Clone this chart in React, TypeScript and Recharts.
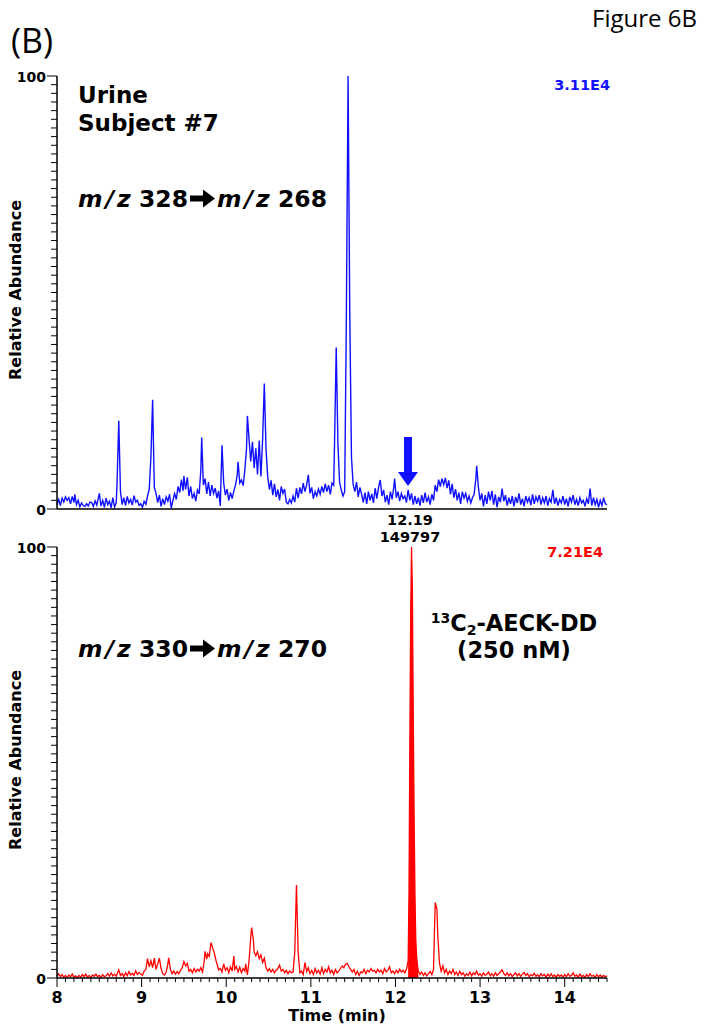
import React from "react";
import { ComposedChart, Line, Area, XAxis, YAxis } from "recharts";

// m/z 328 -> 268 trace (urine, subject #7), [time (min), relative abundance %]
const urineTrace: [number, number][] = [
  [8.0, 1.0], [8.02, 2.2], [8.04, 0.8], [8.06, 2.5], [8.08, 1.6], [8.1, 2.8], [8.12, 2.0], [8.14, 2.6],
  [8.16, 1.2], [8.18, 2.9], [8.2, 1.5], [8.21, 3.4], [8.23, 1.0], [8.25, 2.0], [8.27, 0.5], [8.29, 1.4],
  [8.31, 0.8], [8.33, 0.6], [8.35, 1.2], [8.37, 0.7], [8.39, 1.6], [8.41, 1.5], [8.43, 0.6], [8.45, 1.9],
  [8.47, 0.9], [8.5, 3.6], [8.52, 0.7], [8.54, 2.0], [8.56, 0.4], [8.58, 2.5], [8.6, 1.0], [8.62, 1.8],
  [8.64, 0.3], [8.66, 2.6], [8.68, 0.5], [8.7, 1.5], [8.71, 6.0], [8.73, 20.4], [8.75, 4.0], [8.77, 1.0],
  [8.79, 2.6], [8.81, 0.8], [8.83, 2.9], [8.85, 1.4], [8.87, 2.2], [8.89, 0.9], [8.91, 3.1], [8.93, 1.6],
  [8.95, 2.0], [8.97, 0.8], [8.99, 1.2], [9.01, 0.4], [9.03, 1.8], [9.05, 1.1], [9.07, 3.0], [9.09, 4.5],
  [9.11, 12.0], [9.13, 25.2], [9.15, 5.0], [9.17, 3.6], [9.19, 1.5], [9.21, 3.2], [9.23, 0.6], [9.25, 2.4],
  [9.27, 1.0], [9.29, 2.8], [9.31, 1.8], [9.33, 3.4], [9.35, 0.2], [9.37, 2.0], [9.39, 3.6], [9.41, 2.2],
  [9.43, 5.2], [9.45, 3.8], [9.47, 6.8], [9.49, 4.2], [9.5, 7.6], [9.52, 4.5], [9.54, 7.3], [9.56, 3.0],
  [9.58, 5.2], [9.6, 2.4], [9.62, 3.6], [9.64, 1.8], [9.66, 4.4], [9.68, 3.5], [9.7, 9.0], [9.71, 16.5],
  [9.73, 5.5], [9.75, 7.0], [9.77, 3.5], [9.79, 6.2], [9.81, 3.0], [9.83, 5.5], [9.85, 3.6], [9.87, 4.8],
  [9.89, 2.5], [9.91, 4.2], [9.93, 0.7], [9.94, 8.0], [9.95, 14.7], [9.97, 6.0], [9.99, 3.2], [10.01, 4.6],
  [10.03, 2.0], [10.05, 3.8], [10.07, 2.4], [10.09, 4.2], [10.11, 5.6], [10.13, 7.8], [10.14, 10.9], [10.16, 6.0],
  [10.18, 6.7], [10.2, 5.4], [10.22, 9.0], [10.24, 14.0], [10.25, 21.5], [10.27, 16.0], [10.29, 11.0], [10.31, 15.5],
  [10.33, 9.5], [10.35, 14.0], [10.37, 8.0], [10.39, 15.8], [10.41, 7.5], [10.43, 16.0], [10.45, 29.0], [10.47, 14.0],
  [10.49, 7.5], [10.51, 4.5], [10.53, 6.6], [10.55, 3.2], [10.57, 5.8], [10.59, 2.8], [10.61, 4.5], [10.63, 2.0],
  [10.65, 5.2], [10.67, 3.6], [10.69, 4.6], [10.71, 1.6], [10.73, 1.2], [10.75, 2.2], [10.77, 1.4], [10.79, 3.0],
  [10.81, 1.6], [10.83, 4.8], [10.85, 2.5], [10.87, 5.0], [10.89, 3.5], [10.91, 6.0], [10.93, 4.0], [10.95, 5.5],
  [10.97, 7.9], [10.99, 3.6], [11.01, 5.0], [11.03, 2.4], [11.05, 4.0], [11.07, 3.0], [11.09, 4.6], [11.11, 3.4],
  [11.13, 5.2], [11.15, 3.8], [11.17, 5.8], [11.19, 4.0], [11.21, 5.5], [11.23, 3.4], [11.25, 6.0], [11.27, 5.5],
  [11.28, 15.0], [11.3, 37.3], [11.32, 15.0], [11.34, 6.0], [11.36, 4.4], [11.38, 3.0], [11.4, 4.0], [11.42, 45.0],
  [11.44, 100], [11.46, 45.0], [11.48, 12.0], [11.5, 5.6], [11.52, 4.0], [11.54, 6.2], [11.56, 2.8], [11.58, 5.0],
  [11.6, 3.4], [11.62, 1.5], [11.64, 3.8], [11.66, 1.2], [11.68, 4.0], [11.7, 2.0], [11.72, 3.5], [11.74, 1.4],
  [11.76, 4.8], [11.78, 2.4], [11.8, 5.0], [11.82, 6.7], [11.84, 3.0], [11.86, 4.4], [11.88, 1.6], [11.9, 3.2],
  [11.92, 1.0], [11.94, 4.0], [11.96, 2.2], [11.98, 5.0], [11.99, 7.0], [12.01, 2.6], [12.03, 4.0], [12.05, 1.8],
  [12.07, 3.6], [12.09, 2.4], [12.11, 3.0], [12.13, 1.5], [12.15, 4.4], [12.17, 2.0], [12.19, 3.6], [12.21, 1.0],
  [12.23, 3.0], [12.25, 1.2], [12.27, 2.6], [12.29, 0.8], [12.31, 3.2], [12.33, 1.4], [12.35, 3.8], [12.37, 1.6],
  [12.39, 2.8], [12.41, 1.0], [12.43, 3.4], [12.45, 2.0], [12.47, 5.5], [12.49, 4.0], [12.51, 6.8], [12.53, 5.2],
  [12.55, 7.0], [12.57, 5.6], [12.59, 7.2], [12.61, 4.8], [12.63, 6.6], [12.65, 3.4], [12.67, 5.8], [12.69, 2.6],
  [12.71, 4.6], [12.73, 2.0], [12.75, 3.8], [12.77, 1.2], [12.79, 4.0], [12.81, 2.5], [12.83, 3.6], [12.85, 1.8],
  [12.87, 3.0], [12.89, 1.4], [12.91, 2.6], [12.93, 3.4], [12.95, 7.0], [12.96, 10.0], [12.98, 5.0], [13.0, 2.0],
  [13.02, 3.6], [13.04, 0.6], [13.06, 3.2], [13.08, 1.2], [13.1, 4.0], [13.12, 2.0], [13.14, 4.2], [13.16, 1.0],
  [13.18, 3.4], [13.2, 0.4], [13.22, 2.8], [13.24, 1.6], [13.26, 4.7], [13.28, 1.8], [13.3, 3.2], [13.32, 0.8],
  [13.34, 2.6], [13.36, 1.2], [13.38, 3.0], [13.4, 0.6], [13.42, 2.8], [13.44, 1.4], [13.46, 3.6], [13.48, 1.0],
  [13.5, 2.4], [13.52, 0.6], [13.54, 3.0], [13.56, 1.6], [13.58, 2.6], [13.6, 0.9], [13.62, 3.4], [13.64, 1.2],
  [13.66, 2.8], [13.68, 1.8], [13.7, 3.2], [13.72, 1.0], [13.74, 2.6], [13.76, 1.4], [13.78, 3.0], [13.8, 0.8],
  [13.82, 2.4], [13.84, 1.6], [13.86, 4.4], [13.88, 1.2], [13.9, 2.6], [13.92, 0.8], [13.94, 2.2], [13.96, 1.4],
  [13.98, 3.0], [14.0, 1.0], [14.02, 2.4], [14.04, 0.6], [14.06, 2.8], [14.08, 1.6], [14.1, 3.2], [14.12, 1.0],
  [14.14, 2.2], [14.16, 0.8], [14.18, 2.6], [14.2, 1.4], [14.22, 2.0], [14.24, 0.6], [14.26, 2.4], [14.28, 1.2],
  [14.3, 4.7], [14.32, 0.8], [14.34, 2.6], [14.36, 1.0], [14.38, 2.2], [14.4, 0.4], [14.42, 2.0], [14.44, 0.8],
  [14.46, 2.6], [14.48, 1.2], [14.5, 1.0],
];

// m/z 330 -> 270 trace (13C2 internal standard)
const istdTrace: [number, number][] = [
  [8.0, 0.4], [8.02, 1.0], [8.04, 0.3], [8.06, 0.8], [8.08, 0.2], [8.1, 0.6], [8.12, 0.1], [8.14, 0.7],
  [8.16, 0.3], [8.18, 0.9], [8.2, 0.2], [8.22, 0.5], [8.24, 0.1], [8.26, 0.6], [8.28, 0.2], [8.3, 0.8],
  [8.32, 0.3], [8.34, 0.9], [8.36, 0.2], [8.38, 0.6], [8.4, 0.1], [8.42, 0.7], [8.44, 0.4], [8.46, 0.9],
  [8.48, 0.3], [8.5, 0.6], [8.52, 0.2], [8.54, 0.8], [8.56, 0.3], [8.58, 0.5], [8.6, 1.0], [8.62, 0.4],
  [8.64, 1.2], [8.66, 0.5], [8.68, 0.9], [8.7, 0.4], [8.72, 1.4], [8.73, 1.9], [8.75, 0.6], [8.77, 1.0],
  [8.79, 0.3], [8.81, 1.2], [8.83, 0.5], [8.85, 1.5], [8.87, 0.7], [8.89, 1.1], [8.91, 0.6], [8.93, 1.7],
  [8.95, 0.8], [8.97, 1.3], [8.99, 0.9], [9.01, 0.6], [9.03, 1.6], [9.05, 2.0], [9.07, 4.5], [9.09, 2.6],
  [9.11, 4.0], [9.13, 2.4], [9.15, 4.6], [9.17, 2.0], [9.19, 3.2], [9.21, 4.6], [9.23, 2.2], [9.25, 1.0],
  [9.27, 0.7], [9.29, 1.4], [9.31, 3.2], [9.32, 4.7], [9.34, 2.0], [9.36, 1.0], [9.38, 1.6], [9.4, 0.9],
  [9.42, 1.5], [9.44, 1.0], [9.46, 1.8], [9.48, 2.4], [9.5, 3.8], [9.52, 2.8], [9.54, 3.4], [9.56, 1.6],
  [9.58, 2.0], [9.6, 1.2], [9.62, 2.2], [9.64, 1.4], [9.66, 2.0], [9.68, 1.6], [9.7, 2.4], [9.72, 1.4],
  [9.74, 4.0], [9.75, 6.2], [9.77, 4.4], [9.78, 5.6], [9.8, 5.0], [9.82, 8.2], [9.84, 7.0], [9.86, 5.7],
  [9.88, 4.0], [9.9, 2.6], [9.91, 1.9], [9.93, 2.2], [9.95, 1.4], [9.97, 3.3], [9.99, 1.8], [10.01, 2.4],
  [10.03, 1.2], [10.05, 2.6], [10.07, 1.6], [10.09, 5.1], [10.1, 2.0], [10.12, 2.7], [10.14, 1.4], [10.16, 2.5],
  [10.18, 1.2], [10.2, 2.2], [10.22, 1.6], [10.23, 3.3], [10.25, 0.7], [10.27, 4.0], [10.29, 9.5], [10.3, 11.7],
  [10.32, 9.0], [10.33, 6.0], [10.35, 5.2], [10.37, 6.1], [10.39, 4.5], [10.41, 5.4], [10.43, 3.6], [10.45, 4.6],
  [10.47, 2.4], [10.49, 1.6], [10.51, 2.2], [10.53, 1.4], [10.55, 2.0], [10.57, 1.2], [10.59, 1.8], [10.61, 2.2],
  [10.63, 3.0], [10.65, 1.6], [10.67, 2.0], [10.69, 1.2], [10.71, 1.8], [10.73, 1.0], [10.75, 1.6], [10.77, 1.2],
  [10.79, 1.4], [10.81, 6.0], [10.83, 21.6], [10.85, 6.0], [10.87, 1.2], [10.89, 1.6], [10.91, 0.8], [10.93, 3.6],
  [10.95, 1.5], [10.97, 2.4], [10.99, 1.0], [11.01, 1.8], [11.03, 0.8], [11.05, 2.2], [11.07, 1.2], [11.09, 1.8],
  [11.11, 0.9], [11.13, 2.4], [11.15, 1.0], [11.17, 2.0], [11.19, 1.4], [11.21, 2.6], [11.23, 1.2], [11.25, 1.8],
  [11.27, 0.8], [11.29, 2.0], [11.31, 1.2], [11.33, 1.6], [11.35, 2.2], [11.37, 2.8], [11.39, 2.4], [11.41, 3.2],
  [11.43, 3.4], [11.45, 2.6], [11.47, 2.0], [11.49, 1.4], [11.51, 2.0], [11.53, 0.8], [11.55, 1.6], [11.57, 0.6],
  [11.59, 1.4], [11.61, 1.2], [11.63, 2.0], [11.65, 1.0], [11.67, 1.8], [11.69, 1.4], [11.71, 2.2], [11.73, 1.6],
  [11.75, 1.8], [11.77, 1.2], [11.79, 2.0], [11.81, 1.4], [11.83, 1.8], [11.85, 1.0], [11.87, 2.2], [11.89, 1.4],
  [11.91, 1.8], [11.93, 2.6], [11.95, 1.2], [11.97, 1.6], [11.99, 1.0], [12.01, 1.8], [12.03, 1.2], [12.05, 2.0],
  [12.07, 1.4], [12.09, 1.8], [12.11, 1.2], [12.13, 2.0], [12.15, 4.0], [12.16, 20], [12.17, 55], [12.18, 85],
  [12.19, 100], [12.2, 90], [12.21, 62], [12.22, 38], [12.23, 20], [12.24, 9], [12.25, 5], [12.26, 3],
  [12.27, 1.6], [12.29, 0.8], [12.31, 1.4], [12.33, 0.6], [12.35, 1.2], [12.37, 0.5], [12.39, 1.0], [12.41, 1.5],
  [12.43, 0.8], [12.45, 2.0], [12.46, 10], [12.47, 17.5], [12.49, 16.0], [12.5, 10], [12.52, 3.5], [12.54, 1.6],
  [12.56, 2.8], [12.58, 1.2], [12.6, 2.0], [12.62, 0.8], [12.64, 1.6], [12.66, 1.0], [12.68, 2.0], [12.7, 0.8],
  [12.72, 1.4], [12.74, 0.6], [12.76, 1.6], [12.78, 0.8], [12.8, 1.2], [12.82, 0.4], [12.84, 1.0], [12.86, 0.6],
  [12.88, 1.4], [12.9, 0.5], [12.92, 1.2], [12.94, 0.8], [12.96, 1.6], [12.98, 0.6], [13.0, 1.0], [13.02, 0.4],
  [13.04, 1.2], [13.06, 0.6], [13.08, 0.9], [13.1, 1.4], [13.12, 0.5], [13.14, 1.0], [13.16, 0.4], [13.18, 1.2],
  [13.2, 0.6], [13.22, 1.0], [13.24, 1.4], [13.26, 1.9], [13.28, 1.0], [13.3, 0.6], [13.32, 1.2], [13.34, 0.5],
  [13.36, 1.0], [13.38, 0.3], [13.4, 0.8], [13.42, 1.2], [13.44, 0.5], [13.46, 1.0], [13.48, 0.4], [13.5, 0.9],
  [13.52, 1.3], [13.54, 0.6], [13.56, 1.0], [13.58, 0.3], [13.6, 0.8], [13.62, 0.5], [13.64, 1.1], [13.66, 0.4],
  [13.68, 0.7], [13.7, 0.3], [13.72, 1.0], [13.74, 0.5], [13.76, 0.8], [13.78, 0.2], [13.8, 0.9], [13.82, 0.4],
  [13.84, 1.0], [13.86, 0.3], [13.88, 0.7], [13.9, 0.2], [13.92, 0.8], [13.94, 0.4], [13.96, 0.7], [13.98, 0.2],
  [14.0, 0.8], [14.02, 0.3], [14.04, 1.0], [14.06, 0.4], [14.08, 0.6], [14.1, 1.2], [14.12, 0.4], [14.14, 0.7],
  [14.16, 0.2], [14.18, 0.9], [14.2, 0.3], [14.22, 0.6], [14.24, 0.2], [14.26, 0.8], [14.28, 0.3], [14.3, 1.0],
  [14.32, 0.4], [14.34, 0.6], [14.36, 0.2], [14.38, 0.8], [14.4, 0.3], [14.42, 0.7], [14.44, 0.2], [14.46, 0.6],
  [14.48, 0.3], [14.5, 0.5],
];

// filled region of the labelled standard peak
const istdPeakRange = [12.14, 12.28];

const timeDomain = [8, 14.5];
const yTicks = Array.from({ length: 51 }, (_, i) => i * 2);
const xTicks = Array.from({ length: 66 }, (_, i) => Math.round((8 + i * 0.1) * 10) / 10);

const FONT = '"DejaVu Sans", Verdana, sans-serif';
const BLUE = "#1010ff";
const RED = "#ff0000";

const urineData = urineTrace.map(([t, v]) => ({ t, v }));
const istdData = istdTrace.map(([t, v]) => ({
  t,
  v,
  fillV: t >= istdPeakRange[0] && t <= istdPeakRange[1] ? v : null,
}));

const YTick = (props: any) => {
  const { x, y, payload } = props;
  const v = payload.value;
  const major = v === 0 || v === 100;
  return (
    <g>
      <line x1={x - (major ? 10 : 6)} x2={x} y1={y} y2={y} stroke="#000" strokeWidth={1} />
      {major && (
        <text x={x - 11} y={y + 6} textAnchor="end" fontFamily={FONT} fontWeight="bold" fontSize={14} fill="#000">
          {v}
        </text>
      )}
    </g>
  );
};

const XTick = (props: any) => {
  const { x, y, payload } = props;
  const v = payload.value;
  const major = Math.abs(v - Math.round(v)) < 1e-6;
  return (
    <g>
      <line x1={x} x2={x} y1={y} y2={y + (major ? 9 : 4)} stroke="#000" strokeWidth={1} />
      {major && v < 14.5 && (
        <text x={x} y={y + 25} textAnchor="middle" fontFamily={FONT} fontWeight="bold" fontSize={16} fill="#000">
          {v}
        </text>
      )}
    </g>
  );
};

// "m/z 328 ➔ m/z 268" style transition label
const MzLabel = ({ y, from, to }: { y: number; from: string; to: string }) => {
  const ay = y - 8.5;
  return (
    <g>
      <text x={78} y={y} fontSize={23.5}>
        <tspan fontStyle="italic">m</tspan>
        <tspan fontStyle="italic" dx={3}>/</tspan>
        <tspan fontStyle="italic" dx={3}>z</tspan>
        {" " + from}
      </text>
      <path
        d={`M190 ${ay - 3} L203 ${ay - 3} L203 ${ay - 9} L215 ${ay} L203 ${ay + 9} L203 ${ay + 3} L190 ${ay + 3} Z`}
        fill="#000"
      />
      <text x={217} y={y} fontSize={23.5}>
        <tspan fontStyle="italic">m</tspan>
        <tspan fontStyle="italic" dx={3}>/</tspan>
        <tspan fontStyle="italic" dx={3}>z</tspan>
        {" " + to}
      </text>
    </g>
  );
};

export default function App() {
  return (
    <div style={{ position: "absolute", left: 0, top: 0, width: 704, height: 1030, background: "#fff" }}>
      <div style={{ position: "absolute", left: 0, top: 0 }}>
        <ComposedChart width={704} height={520} data={urineData} margin={{ top: 76, right: 97, bottom: 1, left: 0 }}>
          <XAxis
            dataKey="t"
            type="number"
            domain={timeDomain}
            ticks={[]}
            tick={false}
            tickLine={false}
            height={10}
            axisLine={{ stroke: "#000", strokeWidth: 1.5 }}
          />
          <YAxis
            type="number"
            domain={[0, 100]}
            ticks={yTicks}
            interval={0}
            tick={YTick}
            tickLine={false}
            tickSize={0}
            tickMargin={0}
            width={57}
            allowDataOverflow
            axisLine={{ stroke: "#000", strokeWidth: 1.5 }}
          />
          <Line
            type="linear"
            dataKey="v"
            stroke={BLUE}
            strokeWidth={1.4}
            dot={false}
            isAnimationActive={false}
          />
        </ComposedChart>
      </div>

      <div style={{ position: "absolute", left: 0, top: 520 }}>
        <ComposedChart width={704} height={510} data={istdData} margin={{ top: 27, right: 97, bottom: 12, left: 0 }}>
          <XAxis
            dataKey="t"
            type="number"
            domain={timeDomain}
            ticks={xTicks}
            interval={0}
            tick={XTick}
            tickLine={false}
            tickSize={0}
            tickMargin={0}
            height={40}
            axisLine={{ stroke: "#000", strokeWidth: 1.5 }}
          />
          <YAxis
            type="number"
            domain={[0, 100]}
            ticks={yTicks}
            interval={0}
            tick={YTick}
            tickLine={false}
            tickSize={0}
            tickMargin={0}
            width={57}
            allowDataOverflow
            axisLine={{ stroke: "#000", strokeWidth: 1.5 }}
          />
          <Area
            type="linear"
            dataKey="fillV"
            stroke="none"
            fill={RED}
            fillOpacity={1}
            baseValue={0}
            isAnimationActive={false}
          />
          <Line
            type="linear"
            dataKey="v"
            stroke={RED}
            strokeWidth={1.3}
            dot={false}
            isAnimationActive={false}
          />
        </ComposedChart>
      </div>

      <svg width={704} height={1030} style={{ position: "absolute", left: 0, top: 0, pointerEvents: "none" }}>
        <text x={697} y={27} textAnchor="end" fontFamily='"Open Sans", sans-serif' fontSize={24} fill="#000">
          Figure 6B
        </text>
        <text x={11} y={53} fontFamily='"Open Sans", sans-serif' fontSize={34} fill="#000">
          (B)
        </text>

        <g fontFamily={FONT} fontWeight="bold" fill="#000">
          <text x={78} y={103} fontSize={23}>Urine</text>
          <text x={78} y={131} fontSize={23}>Subject #7</text>
          <MzLabel y={207} from="328" to="268" />
          <MzLabel y={657} from="330" to="270" />
          <text x={514} y={631} fontSize={22.5} textAnchor="middle">
            <tspan fontSize={14} dy={-8}>13</tspan>
            <tspan dy={8}>C</tspan>
            <tspan fontSize={14} dy={4}>2</tspan>
            <tspan dy={-4}>-AECK-DD</tspan>
          </text>
          <text x={514} y={658} fontSize={22.5} textAnchor="middle">(250 nM)</text>

          <text x={410} y={525} fontSize={14.5} textAnchor="middle">12.19</text>
          <text x={410} y={542} fontSize={14.5} textAnchor="middle">149797</text>

          <text x={610} y={90} fontSize={14.5} textAnchor="end" fill={BLUE}>3.11E4</text>
          <text x={603} y={557} fontSize={14.5} textAnchor="end" fill={RED}>7.21E4</text>

          <text transform="translate(21,290) rotate(-90)" fontSize={16} textAnchor="middle">Relative Abundance</text>
          <text transform="translate(21,760) rotate(-90)" fontSize={16} textAnchor="middle">Relative Abundance</text>
          <text x={337} y={1021} fontSize={16} textAnchor="middle">Time (min)</text>
        </g>

        <g fill={BLUE}>
          <rect x={404} y={437} width={8} height={36} />
          <polygon points="398,472 418,472 408,486" />
        </g>
      </svg>
    </div>
  );
}
